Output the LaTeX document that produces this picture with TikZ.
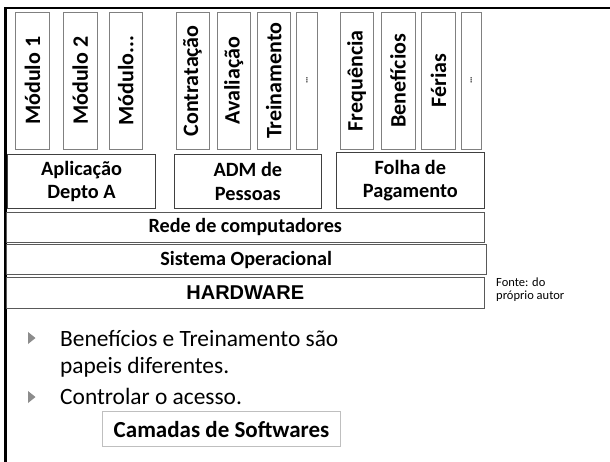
\documentclass[tikz,border=0pt]{standalone}
\usepackage{fontspec}
\setmainfont{Carlito}
\newfontfamily\arialfont{Liberation Sans}
\begin{document}
\begin{tikzpicture}[x=1pt,y=-1pt,
  modbox/.style={draw=black!50,line width=0.9pt,rotate=90,inner sep=0pt,
    font=\bfseries\fontsize{22}{24}\selectfont},
  midbox/.style={draw=black!75,line width=0.9pt,inner sep=0pt,align=center,
    font=\bfseries\fontsize{20.3}{23.5}\selectfont},
  laybox/.style={draw=black!65,line width=0.9pt,inner sep=0pt,
    font=\bfseries\fontsize{20.2}{23.5}\selectfont},
  bultext/.style={anchor=base west,inner sep=0pt,font=\fontsize{23.4}{28}\selectfont},
  bulmark/.style={fill=black!45},
  srctext/.style={anchor=base west,inner sep=0pt,font=\fontsize{12.5}{13}\selectfont}
]
\useasboundingbox (0,0) rectangle (610,462);
% frame
\draw[line width=2.7pt,line cap=rect] (5.3,462) -- (5.3,8) -- (610,8);
% module boxes (x1,x2)
\newcommand{\modnode}[4]{%
  \node[modbox,minimum width=137.5pt,minimum height={#3-#2}] (#1) at ({(#2+#3)/2},80.75) {#4};}
\modnode{m1}{15.7}{49.3}{Módulo 1}
\modnode{m2}{63.3}{97.3}{Módulo 2}
\modnode{m3}{109.3}{142.3}{Módulo...}
\modnode{contr}{176}{209}{Contratação}
\modnode{aval}{217.3}{250}{Avaliação}
\modnode{trein}{257.3}{290}{Treinamento}
\node[modbox,minimum width=137.5pt,minimum height=20.6pt,font=\bfseries\fontsize{9}{10}\selectfont] (d1) at (307,80.75) {…};
\modnode{freq}{340}{373.3}{Frequência}
\modnode{benef}{381}{415}{Benefícios}
\modnode{ferias}{421.7}{455.3}{Férias}
\node[modbox,minimum width=137.5pt,minimum height=20.7pt,font=\bfseries\fontsize{9}{10}\selectfont] (d2) at (471.35,80.75) {…};
% middle boxes
\node[midbox,minimum width=148.4pt,minimum height=54pt] (apl) at (81.5,181.3) {Aplicação\\Depto A};
\node[midbox,minimum width=147.7pt,minimum height=54pt] (adm) at (247.85,181.5) {ADM de\\Pessoas};
\node[midbox,minimum width=148pt,minimum height=55.6pt] (folha) at (410.3,180.5) {Folha de\\Pagamento};
% layers
\node[laybox,minimum width=478pt,minimum height=30pt] (rede) at (245.3,227.3) {Rede de computadores};
\node[laybox,minimum width=479.5pt,minimum height=30.7pt] (so) at (246.2,259.6) {Sistema Operacional};
\node[laybox,minimum width=478pt,minimum height=30.6pt,font=\arialfont\bfseries\fontsize{20}{23}\selectfont] (hw) at (245.3,293) {HARDWARE};
% source
\node[srctext] (f1) at (496,287) {Fonte: do};
\node[srctext] (f2) at (496,299.5) {próprio autor};
% bullets
\fill[bulmark] (28,332) -- (35.5,338) -- (28,344) -- cycle;
\node[bultext] (b1) at (60,346) {Benefícios e Treinamento são};
\node[bultext] (b1b) at (60,373.5) {papeis diferentes.};
\fill[bulmark] (28,391) -- (35.5,397) -- (28,403) -- cycle;
\node[bultext] (b2) at (60,404.5) {Controlar o acesso.};
% caption box
\node[draw=black!25,line width=0.9pt,inner sep=0pt,minimum width=238.4pt,minimum height=35pt,
  font=\bfseries\fontsize{23}{26}\selectfont] (cam) at (221.5,429.2) {Camadas de Softwares};
\end{tikzpicture}
\end{document}
